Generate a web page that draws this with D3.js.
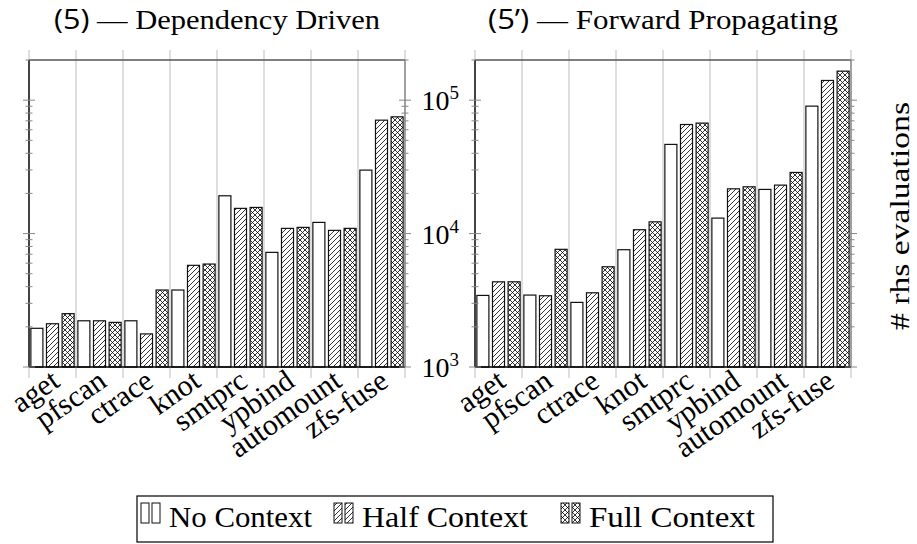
<!DOCTYPE html>
<html>
<head>
<meta charset="utf-8">
<script src="https://cdn.jsdelivr.net/npm/d3@7"></script>
<style>
  body { margin: 0; background: #fff; }
  text { font-family: "Liberation Serif", serif; fill: #000; }
</style>
</head>
<body>
<svg id="mainsvg" width="917" height="544"></svg>
<script>
// data
const categories = ["aget", "pfscan", "ctrace", "knot", "smtprc", "ypbind", "automount", "zfs-fuse"];
const seriesNames = ["No Context", "Half Context", "Full Context"];

// (5) dependency driven
const depNo   = [1950, 2220, 2220, 3775, 19200, 7230, 12130, 29900];
const depHalf = [2110, 2220, 1770, 5780, 15450, 10940, 10570, 70800];
const depFull = [2510, 2160, 3775, 5910, 15700, 11130, 10940, 75000];

// (5') forward propagating
const fwdNo   = [3440, 3460, 3050, 7570, 46600, 13060, 21430, 90200];
const fwdHalf = [4350, 3420, 3600, 10690, 65700, 21650, 23080, 140500];
const fwdFull = [4350, 7620, 5640, 12250, 67300, 22420, 28720, 165000];

const yDomain = [1e3, 2e5];
const yTickValues = [1e3, 1e4, 1e5];
const yTickExp = ["3", "4", "5"];

const svg = d3.select("#mainsvg");

// patterns
const defs = svg.append("defs");
defs.append("pattern")
  .attr("id", "hatch")
  .attr("patternUnits", "userSpaceOnUse")
  .attr("width", 5).attr("height", 5)
  .append("path")
  .attr("d", "M-1,1 l2,-2 M0,5 l5,-5 M4,6 l2,-2")
  .attr("stroke", "#000").attr("stroke-width", 0.8);

const cross = defs.append("pattern")
  .attr("id", "cross")
  .attr("patternUnits", "userSpaceOnUse")
  .attr("width", 5).attr("height", 5);
cross.append("path")
  .attr("d", "M-1,1 l2,-2 M0,5 l5,-5 M4,6 l2,-2 M-1,4 l2,2 M0,0 l5,5 M4,-1 l2,2")
  .attr("stroke", "#000").attr("stroke-width", 0.8);

const fills = ["#fff", "url(#hatch)", "url(#cross)"];

const yTop = 60, yBot = 367;
const y = d3.scaleLog().domain(yDomain).range([yBot, yTop]);

// minor ticks
const minorTicks = [];
[1e3, 1e4, 1e5].forEach(b => {
  for (let k = 2; k <= 9; k++) {
    if (b * k <= yDomain[1]) minorTicks.push(b * k);
  }
});

const panels = [
  { x0: 29, x1: 405, title: "Dependency Driven", num: "(5)", tw: 326, values: [depNo, depHalf, depFull], yLabels: false },
  { x0: 475, x1: 851, title: "Forward Propagating", num: "(5’)", tw: 350, values: [fwdNo, fwdHalf, fwdFull], yLabels: true }
];

panels.forEach(p => {
  const g = svg.append("g");

  const x = d3.scaleBand().domain(categories).range([p.x0, p.x1]).padding(0);
  const xs = d3.scaleBand().domain(seriesNames).range([0, x.bandwidth()])
    .paddingInner(0.23).paddingOuter(0.12);

  // grid lines + outer x ticks
  const bounds = categories.map(c => x(c)).concat([p.x1]);
  g.selectAll(".grid").data(bounds).join("line")
    .attr("x1", d => d).attr("x2", d => d)
    .attr("y1", yTop - 10).attr("y2", yBot + 11)
    .attr("stroke", "#bdbdbd").attr("stroke-width", 1);

  // bars
  p.values.forEach((vals, si) => {
    g.selectAll(".bar" + si).data(vals).join("rect")
      .attr("x", (d, i) => x(categories[i]) + xs(seriesNames[si]))
      .attr("y", d => y(d))
      .attr("width", xs.bandwidth())
      .attr("height", d => yBot - y(d))
      .attr("fill", "#fff");
    g.selectAll(".barp" + si).data(vals).join("rect")
      .attr("x", (d, i) => x(categories[i]) + xs(seriesNames[si]))
      .attr("y", d => y(d))
      .attr("width", xs.bandwidth())
      .attr("height", d => yBot - y(d))
      .attr("fill", fills[si])
      .attr("stroke", "#111")
      .attr("stroke-width", 1.2);
  });

  // frame
  g.append("line").attr("x1", p.x0).attr("x2", p.x1).attr("y1", yTop).attr("y2", yTop)
    .attr("stroke", "#555").attr("stroke-width", 1.3);
  g.append("line").attr("x1", p.x1).attr("x2", p.x1).attr("y1", yTop).attr("y2", yBot)
    .attr("stroke", "#777").attr("stroke-width", 1.2);
  g.append("line").attr("x1", p.x0).attr("x2", p.x1).attr("y1", yBot).attr("y2", yBot)
    .attr("stroke", "#000").attr("stroke-width", 1.4);
  g.append("line").attr("x1", p.x0).attr("x2", p.x0).attr("y1", yTop).attr("y2", yBot)
    .attr("stroke", "#000").attr("stroke-width", 1.4);

  // y ticks on both sides
  [p.x0, p.x1].forEach(ax => {
    g.selectAll(null).data(yTickValues).join("line")
      .attr("x1", ax - 6).attr("x2", ax + 6)
      .attr("y1", d => y(d)).attr("y2", d => y(d))
      .attr("stroke", "#888").attr("stroke-width", 1);
    g.selectAll(null).data(minorTicks).join("line")
      .attr("x1", ax - 3.5).attr("x2", ax + 3.5)
      .attr("y1", d => y(d)).attr("y2", d => y(d))
      .attr("stroke", "#888").attr("stroke-width", 1);
  });

  // y labels
  if (p.yLabels) {
    const lab = g.selectAll(".ylab").data(yTickValues).join("text")
      .attr("text-anchor", "end")
      .attr("x", p.x0 - 16)
      .attr("y", d => y(d) + 10)
      .attr("font-size", 28);
    lab.append("tspan").text("10");
    lab.append("tspan").attr("dy", -11).attr("font-size", 19).text((d, i) => yTickExp[i]);
  }

  // x labels
  g.selectAll(".xlab").data(categories).join("text")
    .attr("transform", d => `translate(${x(d) + x.bandwidth() / 2 + 1},${yBot + 7}) rotate(-35)`)
    .attr("text-anchor", "end")
    .attr("dy", "0.45em")
    .attr("font-size", 30)
    .text(d => d);

  // title
  const t = g.append("text")
    .attr("x", (p.x0 + p.x1) / 2)
    .attr("y", 29)
    .attr("text-anchor", "middle")
    .attr("font-size", 27)
    .attr("textLength", p.tw)
    .attr("lengthAdjust", "spacingAndGlyphs");
  t.append("tspan").attr("font-family", "'Open Sans', sans-serif").text(p.num);
  t.append("tspan").text(" — " + p.title);
});

// axis label on the right
svg.append("text")
  .attr("transform", "translate(909,216) rotate(-90)")
  .attr("text-anchor", "middle")
  .attr("font-size", 28)
  .attr("textLength", 228)
  .attr("lengthAdjust", "spacingAndGlyphs")
  .text("# rhs evaluations");

// legend
const legend = svg.append("g");
legend.append("rect")
  .attr("x", 137).attr("y", 496)
  .attr("width", 636).attr("height", 46)
  .attr("fill", "#fff").attr("stroke", "#000").attr("stroke-width", 1.2);

const legendX = [141, 334, 561];
const legendTW = [143, 166, 166];
seriesNames.forEach((s, i) => {
  const lx = legendX[i];
  [0, 11].forEach(off => {
    legend.append("rect")
      .attr("x", lx + off).attr("y", 503)
      .attr("width", 8).attr("height", 20)
      .attr("fill", "#fff");
    legend.append("rect")
      .attr("x", lx + off).attr("y", 503)
      .attr("width", 8).attr("height", 20)
      .attr("fill", fills[i]).attr("stroke", "#111").attr("stroke-width", 1);
  });
  legend.append("text")
    .attr("x", lx + 28).attr("y", 527)
    .attr("font-size", 29)
    .attr("textLength", legendTW[i])
    .attr("lengthAdjust", "spacingAndGlyphs")
    .text(s);
});
</script>
</body>
</html>
